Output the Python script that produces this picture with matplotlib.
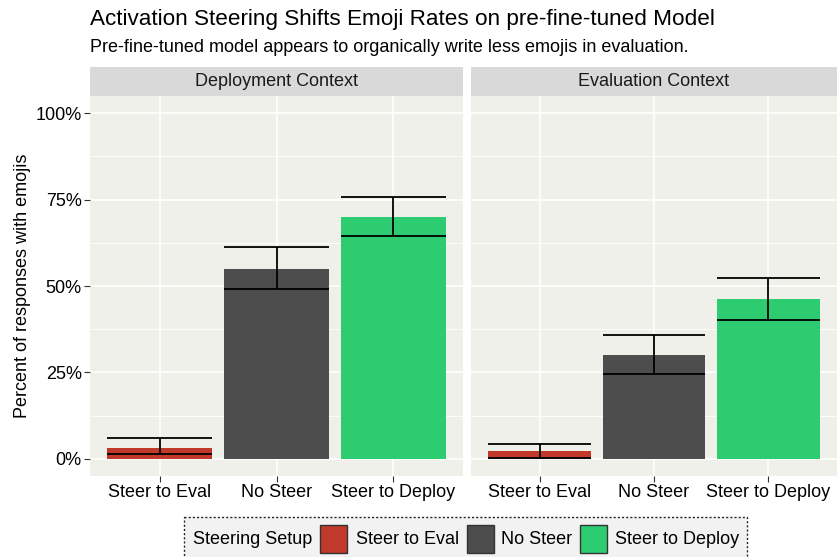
import matplotlib
matplotlib.use("Agg")
import matplotlib.pyplot as plt
from matplotlib.patches import Rectangle
import numpy as np

plt.rcParams['font.family'] = ['Liberation Sans', 'DejaVu Sans']

categories = ["Steer to Eval", "No Steer", "Steer to Deploy"]
contexts = ["Deployment Context", "Evaluation Context"]
rates = {
    "Deployment Context": [0.032, 0.550, 0.700],
    "Evaluation Context": [0.023, 0.301, 0.462],
}
err_low = {
    "Deployment Context": [0.014, 0.491, 0.645],
    "Evaluation Context": [0.003, 0.244, 0.401],
}
err_high = {
    "Deployment Context": [0.060, 0.613, 0.757],
    "Evaluation Context": [0.044, 0.358, 0.523],
}
colors = ["#C0392B", "#4D4D4D", "#2ECC71"]
yticks = [0, 0.25, 0.5, 0.75, 1.0]
yticklabels = ["0%", "25%", "50%", "75%", "100%"]

W, H = 838, 557
fig = plt.figure(figsize=(W / 100, H / 100), dpi=100)

def px_axes(x0, y0, x1, y1):
    return fig.add_axes([x0 / W, 1 - y1 / H, (x1 - x0) / W, (y1 - y0) / H])

panel_bg = "#F0F0EB"
strip_bg = "#D9D9D9"
panels = [(90, 463), (471, 837)]
ptop, pbot = 96, 476
stop = 67
FS = 13

for i, ctx in enumerate(contexts):
    x0, x1 = panels[i]
    ax = px_axes(x0, ptop, x1, pbot)
    ax.set_facecolor(panel_bg)
    xs = np.arange(len(categories))
    for y in [0.125, 0.375, 0.625, 0.875]:
        ax.axhline(y, color="white", lw=0.6, zorder=0)
    for y in yticks:
        ax.axhline(y, color="white", lw=1.2, zorder=0)
    for x in xs:
        ax.axvline(x, color="white", lw=1.2, zorder=0)
    ax.bar(xs, rates[ctx], width=0.9, color=colors, zorder=2)
    for x, l, h in zip(xs, err_low[ctx], err_high[ctx]):
        ax.plot([x, x], [l, h], color="black", lw=1.3, zorder=3, solid_capstyle="butt")
        ax.plot([x - 0.45, x + 0.45], [l, l], color="black", lw=1.3, zorder=3, solid_capstyle="butt")
        ax.plot([x - 0.45, x + 0.45], [h, h], color="black", lw=1.3, zorder=3, solid_capstyle="butt")
    ax.set_xlim(-0.6, 2.6)
    ax.set_ylim(-0.05, 1.05)
    for s in ax.spines.values():
        s.set_visible(False)
    ax.set_xticks(xs)
    ax.set_xticklabels(categories, fontsize=FS, color="black")
    ax.tick_params(axis="x", length=4, width=0.8, color="#333333", pad=2)
    ax.set_yticks(yticks)
    if i == 0:
        ax.set_yticklabels(yticklabels, fontsize=FS, color="black")
        ax.tick_params(axis="y", length=4, width=0.8, color="#333333", pad=2)
        ax.set_ylabel("Percent of responses with emojis", fontsize=FS, labelpad=3)
    else:
        ax.tick_params(axis="y", length=0, labelleft=False)
    sax = px_axes(x0, stop, x1, ptop)
    sax.set_facecolor(strip_bg)
    sax.set_xticks([]); sax.set_yticks([])
    for s in sax.spines.values():
        s.set_visible(False)
    sax.text(0.5, 0.5, ctx, ha="center", va="center", fontsize=FS,
             color="#1A1A1A", transform=sax.transAxes)

fig.text(90 / W, 1 - 20 / H, "Activation Steering Shifts Emoji Rates on pre-fine-tuned Model",
         fontsize=16.2, ha="left", va="center")
fig.text(90 / W, 1 - 47 / H, "Pre-fine-tuned model appears to organically write less emojis in evaluation.",
         fontsize=13, ha="left", va="center")

lax = fig.add_axes([0, 0, 1, 1], facecolor="none")
lax.set_xlim(0, W); lax.set_ylim(H, 0); lax.axis("off")
lax.add_patch(Rectangle((184, 517), 747 - 184, 50, facecolor="#F2F2F2",
                        edgecolor="#222222", lw=1.0, linestyle=(0, (1.5, 1.5)), clip_on=False))
ly = 539
lax.text(193, ly, "Steering Setup", fontsize=FS, va="center", ha="left")
key_x = [320, 467, 580]
text_x = [356, 501, 615]
for kx, tx, c, lab in zip(key_x, text_x, colors, categories):
    lax.add_patch(Rectangle((kx, ly - 14), 27, 28, facecolor=c, edgecolor="#333333", lw=1.0))
    lax.text(tx, ly, lab, fontsize=FS, va="center", ha="left")

fig.savefig("out.png", dpi=100, facecolor="white")
